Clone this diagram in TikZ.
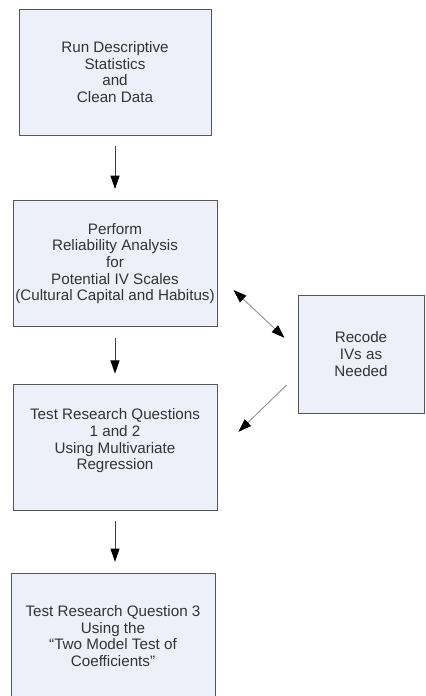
\documentclass[tikz,border=0pt]{standalone}
\usepackage{fontspec}
\setmainfont{Liberation Sans}
\usepackage{xcolor}
\usetikzlibrary{arrows.meta}
\definecolor{boxfill}{HTML}{EDF0F8}
\definecolor{boxline}{HTML}{555555}
\definecolor{txt}{HTML}{333333}

\begin{document}
\begin{tikzpicture}[x=0.75pt,y=-0.75pt,
      box/.style={
        rectangle,
        draw=boxline,
        fill=boxfill,
        line width=0.75pt,
        text=txt,
        align=center,
        inner sep=0pt,
        font=\fontsize{11.4}{12.5}\selectfont
      },
      >={Triangle[length=10pt,width=6.8pt,color=black]},
      down/.style={->,draw=black!75,line width=0.75pt,shorten <=8pt,shorten >=8pt},
      side/.style={draw=black!40,line width=0.75pt}]

    \useasboundingbox (0,0) rectangle (425,696);

    \node[box,minimum width=144pt,minimum height=94.5pt] (clean) at (115,72)
      {Run Descriptive\\Statistics\\and\\Clean Data};
    \node[box,minimum width=153pt,minimum height=95pt] (reliab) at (115,263.5)
      {Perform\\Reliability Analysis\\for\\Potential IV Scales\\(Cultural Capital and Habitus)};
    \node[box,minimum width=153pt,minimum height=94pt] (regress) at (115,447.5)
      {Test Research Questions\\1 and 2\\Using Multivariate\\Regression\\\mbox{}};
    \node[box,minimum width=153pt,minimum height=94.5pt] (twomodel) at (113,636)
      {Test Research Question 3\\Using the\\“Two Model Test of\\Coefficients”};
    \node[box,minimum width=94.5pt,minimum height=88.5pt] (recode) at (361,354)
      {Recode\\IVs as\\Needed};

    \draw[down] (clean) -- (reliab);
    \draw[down] (reliab) -- (regress);
    \draw[down] (regress.south) -- (regress.south |- twomodel.north);
    \draw[side,<->,shorten <=16.4pt,shorten >=13.3pt]
      ([yshift=-8.6pt]reliab.east) -- ([yshift=3pt]recode.west);
    \draw[side,->,shorten <=11.5pt,shorten >=21.8pt]
      ([yshift=-15.3pt]recode.west) -- ([yshift=-3.5pt]regress.east);
  \end{tikzpicture}
\end{document}
